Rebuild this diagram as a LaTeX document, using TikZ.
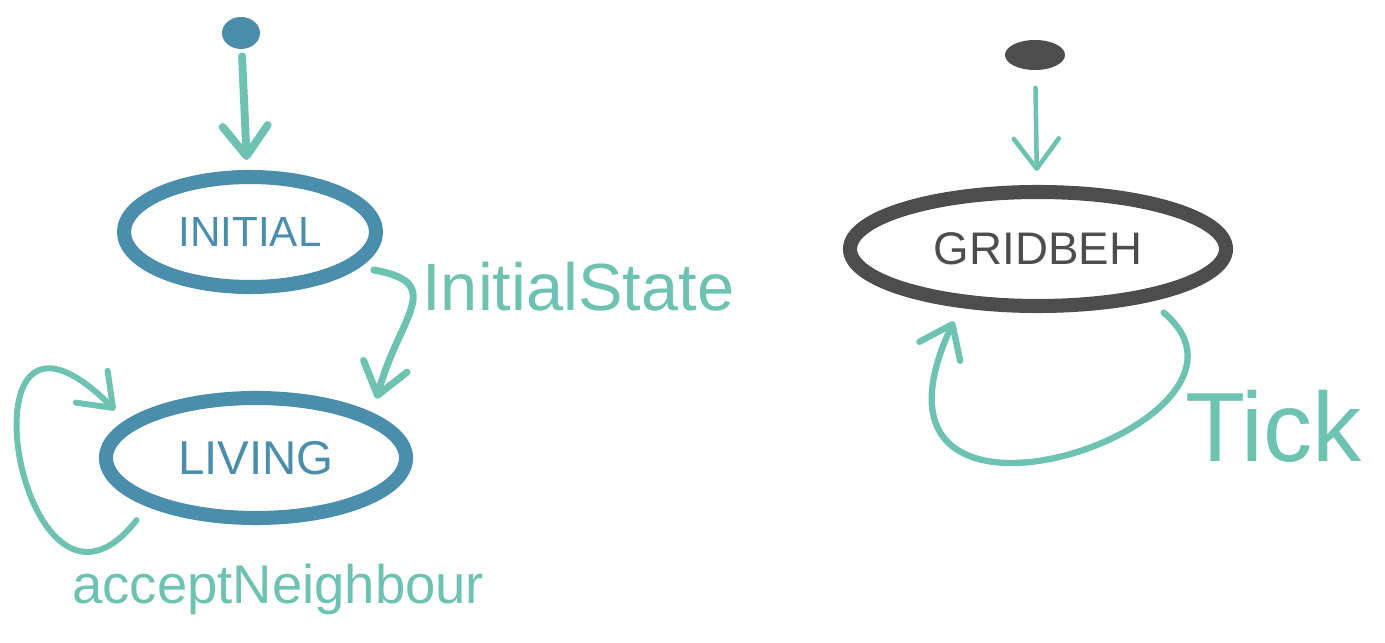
\documentclass[tikz,border=0pt]{standalone}
\usepackage{fontspec}
\setmainfont{Liberation Sans}
\usetikzlibrary{shapes.geometric,arrows.meta}
\definecolor{stateblue}{HTML}{4B8EAB}
\definecolor{mint}{HTML}{6EC2B2}
\definecolor{gridgrey}{HTML}{4D4D4D}
\tikzset{
 state/.style={ellipse,draw=stateblue,line width=8pt,inner sep=0pt,text=stateblue},
 startdot/.style={ellipse,fill=stateblue,inner sep=0pt},
 trans/.style={draw=mint,line width=4pt,line cap=round,line join=round,
   -{Straight Barb[length=6mm,width=9mm,line cap=round,line join=round]}},
 trlabel/.style={text=mint,inner sep=0pt}
}
\begin{document}
\begin{tikzpicture}
 \useasboundingbox (0,0) rectangle (27.7,12.84);
 % left machine
 \node[startdot,minimum width=0.76cm,minimum height=0.64cm] (start) at (4.82,12.18) {};
 \node[state,minimum width=5.04cm,minimum height=2.2cm,font=\fontsize{24}{24}\selectfont] (initial) at (5.0,8.2) {INITIAL};
 \node[state,minimum width=6.0cm,minimum height=2.4cm,font=\fontsize{27}{27}\selectfont] (living) at (5.12,3.68) {LIVING};
 \draw[trans,line width=4.5pt,shorten <=4pt,shorten >=0.2cm] (start) -- (initial);
 \draw[trans,shorten <=0.3cm,shorten >=0.3cm] (initial.-18) .. controls +(-10:1.8) and +(75:2.0) .. (living.21);
 \draw[trans,line width=3.4pt,shorten <=0.35cm,shorten >=0.3cm] (living.-156) .. controls +(-128:4.1) and +(135:5.0) .. (living.164);
 \node[trlabel,anchor=base west,font=\fontsize{38}{38}\selectfont] (initlbl) at (8.44,6.62) {InitialState};
 \node[trlabel,anchor=base west,font=\fontsize{31}{31}\selectfont] (acclbl) at (1.44,0.78) {acceptNeighbour};
 % right machine
 \node[startdot,fill=gridgrey,minimum width=1.2cm,minimum height=0.6cm] (gridstart) at (20.7,11.74) {};
 \node[state,draw=gridgrey,text=gridgrey,minimum width=7.52cm,minimum height=2.28cm,font=\fontsize{26}{26}\selectfont] (grid) at (20.76,7.86) {GRIDBEH};
 \draw[trans,line width=2.6pt,shorten <=0.35cm,shorten >=0.28cm] (gridstart) -- (grid);
 \draw[trans,line width=3.6pt,shorten <=0.35cm,shorten >=0.3cm] (grid.-25) .. controls +(-40:3.8) and +(245:6.0) .. (grid.-143);
 \node[trlabel,anchor=base west,font=\fontsize{56}{56}\selectfont] (ticklbl) at (23.7,3.6) {Tick};
\end{tikzpicture}
\end{document}
